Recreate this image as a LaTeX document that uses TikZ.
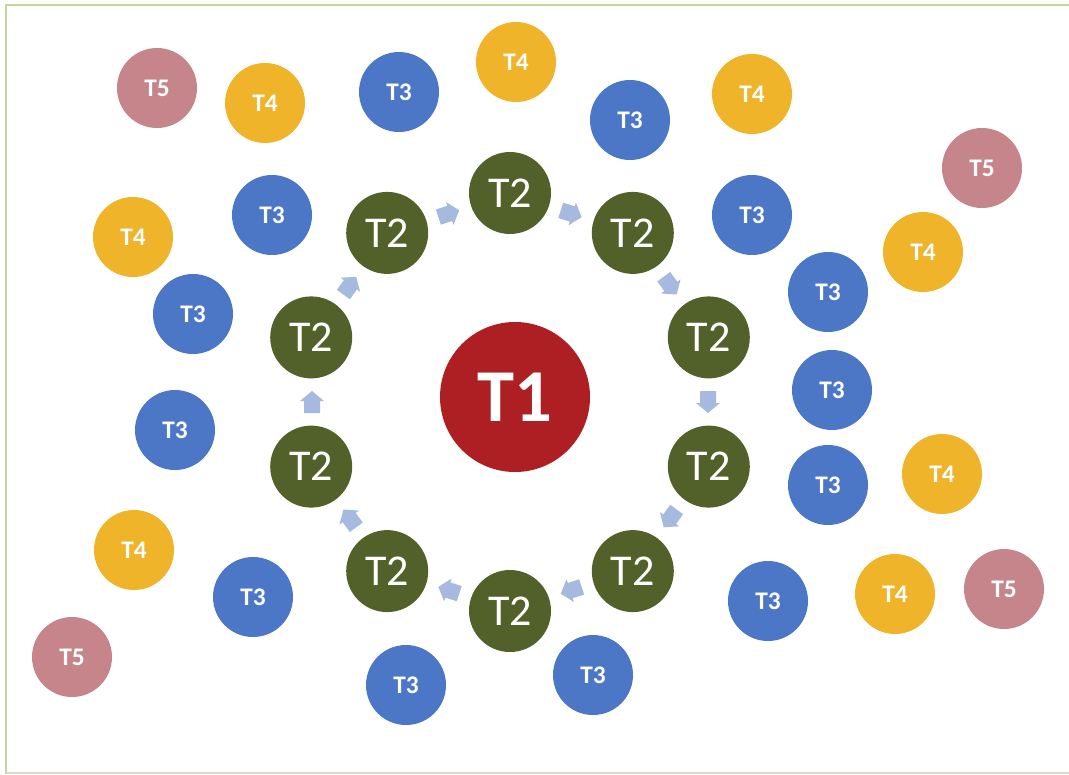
\documentclass[tikz,border=0pt]{standalone}
\usepackage{fontspec}
\setmainfont{Carlito}
\definecolor{cT1}{HTML}{AE1F24}
\definecolor{cT2}{HTML}{52602A}
\definecolor{cT3}{HTML}{4B77C6}
\definecolor{cT4}{HTML}{F0B42A}
\definecolor{cT5}{HTML}{C6858A}
\definecolor{arrowcol}{HTML}{A6BADF}
\definecolor{framegreen}{HTML}{C3D69B}
\definecolor{framebottom}{HTML}{D8DAC8}
\tikzset{
  ball/.style={circle, inner sep=0pt, minimum size=60pt, text=white,
    font=\bfseries\fontsize{19}{19}\selectfont},
  tthree/.style={ball, fill=cT3},
  tfour/.style={ball, fill=cT4},
  tfive/.style={ball, fill=cT5},
  ttwo/.style={circle, inner sep=0pt, minimum size=61.5pt, fill=cT2, text=white,
    font=\fontsize{33}{33}\selectfont},
  tone/.style={circle, inner sep=0pt, minimum size=112.5pt, fill=cT1, text=white,
    font=\bfseries\fontsize{56}{56}\selectfont},
  blockarrow/.style={fill=arrowcol},
  frameline/.style={line width=1.5pt}
}
\newcommand{\ringarrow}[2]{%
  \fill[blockarrow, shift={(#1)}, rotate=#2]
    (-11,-8) -- (1,-8) -- (1,-12) -- (11,0) -- (1,12) -- (1,8) -- (-11,8) -- cycle;}
\begin{document}
\begin{tikzpicture}[x=0.75pt, y=-0.75pt]
\useasboundingbox (0,0) rectangle (1069,774);
% frame
\coordinate (f1) at (6,5);
\coordinate (f2) at (1069,5);
\coordinate (f3) at (6,774);
\coordinate (f4) at (6,773);
\coordinate (f5) at (1069,773);
\draw[frameline, framegreen] (f2) -- (f1) -- (f3);
\draw[frameline, framebottom] (f4) -- (f5);
% centre
\node[tone] (t1) at (515,397) {T1};
% T2 ring
\node[ttwo] (a) at (510,193) {T2};
\node[ttwo] (b) at (632.8,232.9) {T2};
\node[ttwo] (c) at (708.8,337.4) {T2};
\node[ttwo] (d) at (708.8,466.6) {T2};
\node[ttwo] (e) at (632.8,571.1) {T2};
\node[ttwo] (f) at (510,611) {T2};
\node[ttwo] (g) at (387.2,571.1) {T2};
\node[ttwo] (h) at (311.2,466.6) {T2};
\node[ttwo] (i) at (311.2,337.4) {T2};
\node[ttwo] (j) at (387.2,232.9) {T2};
% ring arrows
\coordinate (ab) at (571.2,213.7);
\coordinate (bc) at (670.2,285.6);
\coordinate (cd) at (708,402);
\coordinate (de) at (670.2,518.4);
\coordinate (ef) at (571.2,590.3);
\coordinate (fg) at (448.8,590.3);
\coordinate (gh) at (349.8,518.4);
\coordinate (hi) at (312,402);
\coordinate (ij) at (349.8,285.6);
\coordinate (ja) at (448.8,213.7);
\ringarrow{ab}{-18}
\ringarrow{bc}{-54}
\ringarrow{cd}{-90}
\ringarrow{de}{-126}
\ringarrow{ef}{-162}
\ringarrow{fg}{162}
\ringarrow{gh}{126}
\ringarrow{hi}{90}
\ringarrow{ij}{54}
\ringarrow{ja}{18}
% T3
\node[tthree] (s1) at (399,92) {T3};
\node[tthree] (s2) at (630,120) {T3};
\node[tthree] (s3) at (272,215) {T3};
\node[tthree] (s4) at (752,215) {T3};
\node[tthree] (s5) at (193,314) {T3};
\node[tthree] (s6) at (828,292) {T3};
\node[tthree] (s7) at (175,430) {T3};
\node[tthree] (s8) at (832,390) {T3};
\node[tthree] (s9) at (828,485) {T3};
\node[tthree] (s10) at (253,597) {T3};
\node[tthree] (s11) at (768,601) {T3};
\node[tthree] (s12) at (406,685) {T3};
\node[tthree] (s13) at (593,675) {T3};
% T4
\node[tfour] (q1) at (516,62) {T4};
\node[tfour] (q2) at (265,103) {T4};
\node[tfour] (q3) at (752,94) {T4};
\node[tfour] (q4) at (133,237) {T4};
\node[tfour] (q5) at (923,252) {T4};
\node[tfour] (q6) at (942,474) {T4};
\node[tfour] (q7) at (134,550) {T4};
\node[tfour] (q8) at (895,594) {T4};
% T5
\node[tfive] (p1) at (157,88) {T5};
\node[tfive] (p2) at (982,168) {T5};
\node[tfive] (p3) at (1004,589) {T5};
\node[tfive] (p4) at (72,657) {T5};
\end{tikzpicture}
\end{document}
